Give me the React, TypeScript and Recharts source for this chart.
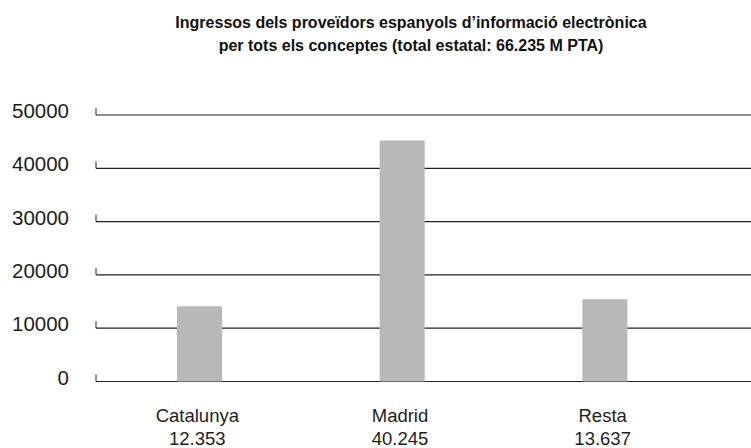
import React from "react";
import { BarChart, Bar, XAxis, YAxis, CartesianGrid } from "recharts";

const categories = ["Catalunya", "Madrid", "Resta"];
const values = [14100, 45200, 15450];
const totalLabels = ["12.353", "40.245", "13.637"];
const yTicks = [0, 10000, 20000, 30000, 40000, 50000];
const titleLines = [
  "Ingressos dels proveïdors espanyols d’informació electrònica",
  "per tots els conceptes (total estatal: 66.235 M PTA)",
];

const data = categories.map((c, i) => ({ name: c, value: values[i], label: totalLabels[i] }));

const FONT = "'Liberation Sans', Arial, sans-serif";
const TEXT = "#1e1e1e";

const YTick = (props: any) => {
  const { x, y, payload } = props;
  return (
    <g>
      <text x={x} y={y + 3} textAnchor="end" fontSize={20.5} fill={TEXT} fontFamily={FONT}>
        {payload.value}
      </text>
      <line x1={x + 27} x2={x + 27} y1={y - 7} y2={y} stroke="#222" strokeWidth={1} />
    </g>
  );
};

const XTick = (props: any) => {
  const { x, y, payload, index } = props;
  return (
    <text x={x} y={y} textAnchor="middle" fontSize={18.5} fill={TEXT} fontFamily={FONT}>
      <tspan x={x - 2} y={y + 32.5}>{payload.value}</tspan>
      <tspan x={x - 2} y={y + 55.5}>{totalLabels[index]}</tspan>
    </text>
  );
};

export default function App() {
  return (
    <div
      style={{
        position: "absolute",
        left: 0,
        top: 0,
        width: 751,
        height: 448,
        background: "#fff",
        overflow: "hidden",
      }}
    >
      <div
        style={{
          position: "absolute",
          left: 72,
          top: 11,
          width: 678,
          textAlign: "center",
          fontFamily: FONT,
          fontWeight: "bold",
          fontSize: 16,
          lineHeight: "23px",
          color: "#111",
        }}
      >
        {titleLines.map((t) => (
          <div key={t}>{t}</div>
        ))}
      </div>
      <BarChart
        width={751}
        height={448}
        data={data}
        margin={{ top: 115, right: 0, bottom: 36.5, left: 0 }}
      >
        <CartesianGrid vertical={false} stroke="#222" strokeWidth={1.2} />
        <XAxis
          dataKey="name"
          axisLine={false}
          tickLine={false}
          tickSize={0}
          tickMargin={8}
          height={30}
          padding={{ left: 2, right: 45 }}
          tick={<XTick />}
          interval={0}
        />
        <YAxis
          domain={[0, 50000]}
          ticks={yTicks}
          axisLine={false}
          tickLine={false}
          tickSize={0}
          tickMargin={27}
          width={96}
          tick={<YTick />}
          interval={0}
        />
        <Bar dataKey="value" fill="#b8b8b8" barSize={45} isAnimationActive={false} />
      </BarChart>
    </div>
  );
}
